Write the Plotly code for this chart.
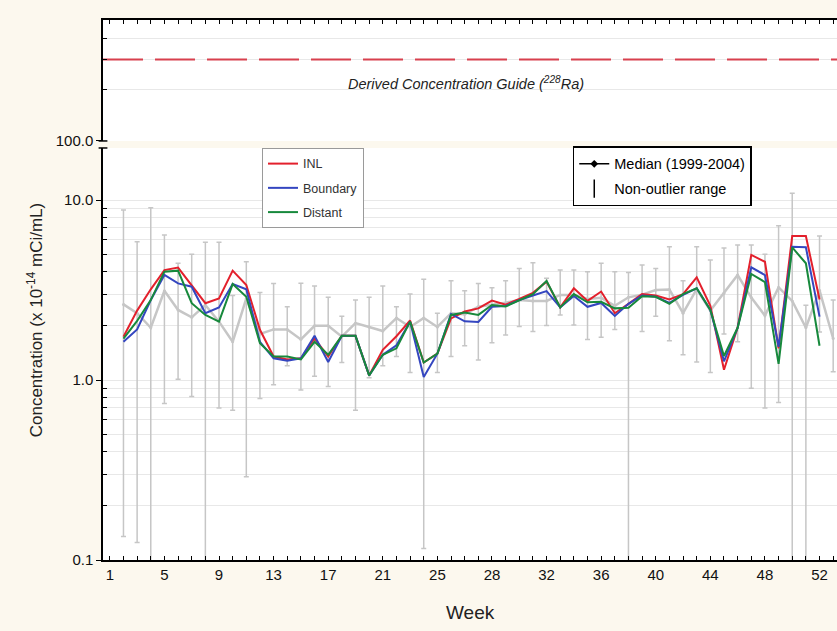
import numpy as np
import plotly.graph_objects as go

# ---- data -------------------------------------------------------------
# axis positions of the weekly samples (tick text below gives the week label)
pos_range = list(range(2, 55))      # median / non-outlier range
pos_sites = list(range(2, 54))      # INL, Boundary, Distant

inl = [1.74, 2.43, 3.19, 4.08, 4.21, 3.33, 2.67, 2.84, 4.05, 3.37, 1.90, 1.35, 1.30,
       1.32, 1.70, 1.35, 1.76, 1.76, 1.06, 1.47, 1.75, 2.14, 1.25, 1.40, 2.20, 2.40,
       2.50, 2.76, 2.62, 2.82, 3.05, 3.52, 2.53, 3.23, 2.75, 3.10, 2.35, 2.65, 3.00,
       2.95, 2.80, 3.00, 3.72, 2.58, 1.14, 1.96, 4.95, 4.54, 1.50, 6.30, 6.30, 2.80]
boundary = [1.63, 1.91, 2.78, 3.83, 3.44, 3.30, 2.35, 2.53, 3.41, 3.19, 1.63, 1.32, 1.28,
            1.32, 1.76, 1.26, 1.76, 1.76, 1.06, 1.38, 1.56, 2.11, 1.04, 1.40, 2.33, 2.12,
            2.10, 2.55, 2.58, 2.78, 2.95, 3.12, 2.53, 2.93, 2.55, 2.68, 2.27, 2.65, 2.95,
            2.90, 2.68, 2.97, 3.23, 2.45, 1.27, 1.95, 4.23, 3.83, 1.53, 5.50, 5.46, 2.25]
distant = [1.70, 2.13, 2.78, 4.00, 4.05, 2.67, 2.30, 2.11, 3.41, 2.90, 1.60, 1.35, 1.35,
           1.30, 1.63, 1.38, 1.76, 1.76, 1.06, 1.38, 1.50, 2.11, 1.25, 1.40, 2.30, 2.37,
           2.30, 2.61, 2.56, 2.78, 3.00, 3.55, 2.53, 3.00, 2.70, 2.72, 2.50, 2.52, 2.92,
           2.90, 2.65, 3.00, 3.23, 2.45, 1.36, 1.95, 3.88, 3.50, 1.23, 5.45, 4.45, 1.55]

median = [2.63, 2.35, 1.95, 3.13, 2.45, 2.23, 2.61, 2.11, 1.63, 2.84, 1.80, 1.91, 1.91,
          1.68, 2.00, 2.00, 1.74, 2.07, 1.97, 1.87, 2.21, 1.97, 2.21, 1.97, 2.35, 2.32,
          2.55, 2.61, 2.69, 2.78, 2.75, 2.75, 2.97, 2.97, 2.82, 2.86, 2.58, 2.88, 2.98,
          3.16, 3.18, 2.35, 3.20, 2.43, 3.03, 3.83, 2.87, 2.28, 3.27, 2.75, 1.95, 3.15, 1.70]
range_hi = [8.8, 5.87, 9.06, 6.4, 4.45, 5.0, 5.82, 5.82, 2.95, 4.54, 3.06, 3.44, 2.55,
            3.45, 3.33, 2.88, 2.26, 2.78, 2.88, 3.33, 2.55, 3.0, 3.63, 2.35, 3.56, 3.13,
            3.44, 3.25, 3.56, 4.17, 4.48, 3.67, 4.08, 4.08, 4.0, 4.45, 4.0, 3.95, 4.36,
            4.17, 5.5, 3.56, 5.5, 4.64, 5.42, 5.62, 5.62, 5.0, 7.2, 10.9, 2.6, 6.3, 2.78]
range_lo = [0.135, 0.125, 0.05, 0.74, 1.01, 0.81, 0.05, 0.70, 0.68, 0.29, 0.79, 0.94, 1.2,
            0.88, 1.05, 0.92, 1.25, 0.68, 1.03, 1.2, 1.35, 1.10, 0.116, 1.10, 1.35, 1.55,
            1.29, 1.61, 1.78, 1.98, 1.86, 2.01, 2.30, 2.02, 1.68, 1.73, 1.91, 0.05, 1.86,
            2.26, 1.65, 1.38, 1.26, 1.10, 1.8, 1.63, 0.90, 0.70, 0.75, 0.05, 0.05, 1.85, 1.11]

dcg = 300.0   # Derived Concentration Guide, 228Ra

label_pos = [1, 5, 9, 13, 17, 21, 25, 29, 33, 37, 41, 45, 49, 53]
label_text = ["1", "5", "9", "13", "17", "21", "25", "28", "32", "36", "40", "44", "48", "52"]

# ---- styling ----------------------------------------------------------
PAPER = "#fcf8ee"
GRAY = "#c6c6c6"
GRID = "#e8e8e8"
NARROW = "Liberation Sans Narrow, Liberation Sans, Arial, sans-serif"
SANS = "Liberation Sans, Arial, sans-serif"

med = np.array(median)
err_plus = np.array(range_hi) - med
err_minus = med - np.array(range_lo)

fig = go.Figure()

# median with non-outlier range
fig.add_trace(go.Scatter(
    x=pos_range, y=median, mode="lines+markers",
    line=dict(color=GRAY, width=2.5), marker=dict(color=GRAY, size=3),
    error_y=dict(type="data", symmetric=False, array=err_plus, arrayminus=err_minus,
                 color=GRAY, thickness=1.5, width=2.5),
    showlegend=False, xaxis="x", yaxis="y"))

for name, vals, col in [("INL", inl, "#e3202c"),
                        ("Boundary", boundary, "#3446c0"),
                        ("Distant", distant, "#17893c")]:
    fig.add_trace(go.Scatter(
        x=pos_sites, y=vals, mode="lines", name=name, legendgroup=name,
        line=dict(color=col, width=2), legend="legend", xaxis="x", yaxis="y"))

# legend entries for the summary statistics
fig.add_trace(go.Scatter(
    x=[None], y=[None], mode="lines+markers", name="Median (1999-2004)",
    legendgroup="med",
    line=dict(color="black", width=1.5), marker=dict(symbol="diamond", size=6, color="black"),
    legend="legend2", xaxis="x", yaxis="y"))
fig.add_trace(go.Scatter(
    x=[None], y=[None], mode="markers", name="Non-outlier range", legendgroup="rng",
    marker=dict(symbol="line-ns-open", size=13, color="black",
                line=dict(color="black", width=1.5)),
    legend="legend2", xaxis="x", yaxis="y"))

# DCG reference line on the upper panel
fig.add_trace(go.Scatter(
    x=[0.5, 54.28], y=[dcg, dcg], mode="lines",
    line=dict(color="#d8404e", width=2, dash="40px,12px"),
    showlegend=False, hoverinfo="skip", xaxis="x2", yaxis="y2"))

x_common = dict(
    range=[0.5, 54.28], tickmode="array", tickvals=label_pos, ticktext=label_text,
    ticks="inside", ticklen=4, tickwidth=1, tickcolor="black",
    minor=dict(tickmode="linear", tick0=1, dtick=1, ticks="inside", ticklen=4,
               tickcolor="black", showgrid=False),
    showline=True, linecolor="black", linewidth=1.5, showgrid=False, zeroline=False,
    tickfont=dict(family=NARROW, size=15, color="#111"))

fig.update_layout(
    width=837, height=631,
    margin=dict(l=103, r=0, t=20, b=71),
    paper_bgcolor=PAPER, plot_bgcolor="white",
    font=dict(family=SANS, color="#111"),
    xaxis=dict(anchor="y", domain=[0, 1], **x_common),
    xaxis2=dict(anchor="y2", domain=[0, 1], matches="x", side="top",
                **{**x_common, "showticklabels": False}),
    yaxis=dict(type="log", domain=[0, 0.763], range=[-1, 1.289],
               tickmode="array", tickvals=[0.1, 1, 10], ticktext=["0.1", "1.0", "10.0"],
               ticks="outside", ticklen=5, tickcolor="black",
               showline=True, linecolor="black", linewidth=1.5,
               showgrid=True, gridcolor=GRID, gridwidth=1, zeroline=False,
               tickfont=dict(family=NARROW, size=15, color="#111"),
               minor=dict(tickmode="array",
                          tickvals=[0.2, 0.3, 0.4, 0.5, 0.6, 0.7, 0.8, 0.9,
                                    2, 3, 4, 5, 6, 7, 8, 9, 20],
                          ticks="inside", ticklen=4, tickcolor="black",
                          showgrid=True, gridcolor=GRID)),
    yaxis2=dict(type="log", domain=[0.776, 1], range=[1.9999, 2.708],
                tickmode="array", tickvals=[100], ticktext=["100.0"],
                ticks="outside", ticklen=5, tickcolor="black",
                showline=True, linecolor="black", linewidth=1.5,
                showgrid=False, zeroline=False,
                tickfont=dict(family=NARROW, size=15, color="#111"),
                minor=dict(tickmode="array", tickvals=[200, 300, 400],
                           ticks="inside", ticklen=4, tickcolor="black",
                           showgrid=True, gridcolor=GRID)),
    legend=dict(x=0.2166, y=0.763, xanchor="left", yanchor="top",
                bgcolor="white", bordercolor="#9a9a9a", borderwidth=1,
                font=dict(family=SANS, size=12.5, color="#333"),
                itemwidth=30, tracegroupgap=5),
    legend2=dict(x=0.640, y=0.766, xanchor="left", yanchor="top",
                 bgcolor="white", bordercolor="black", borderwidth=1.5,
                 font=dict(family=SANS, size=14.5, color="black"),
                 itemwidth=30, tracegroupgap=3),
    annotations=[
        dict(text="<i>Derived Concentration Guide (<sup>228</sup>Ra)</i>",
             xref="paper", yref="paper", x=0.4946, y=0.883, showarrow=False,
             font=dict(family=SANS, size=14.5, color="#222"),
             xanchor="center", yanchor="middle"),
        dict(text="Concentration (x 10<sup>-14</sup> mCi/mL)", textangle=-90,
             xref="paper", yref="paper", x=-0.0926, y=0.444, showarrow=False,
             font=dict(family=SANS, size=17, color="#222"),
             xanchor="center", yanchor="middle"),
        dict(text="Week", xref="paper", yref="paper", x=0.5, y=-0.0963,
             showarrow=False, font=dict(family=NARROW, size=19, color="#222"),
             xanchor="center", yanchor="middle"),
    ],
    shapes=[
        # axis break marks between the two panels
        dict(type="line", xref="paper", yref="paper", x0=-0.006, x1=0.006,
             y0=0.776, y1=0.776, line=dict(color="black", width=1.5)),
        dict(type="line", xref="paper", yref="paper", x0=-0.006, x1=0.006,
             y0=0.763, y1=0.763, line=dict(color="black", width=1.5)),
    ],
)

fig.write_html("out.html")
